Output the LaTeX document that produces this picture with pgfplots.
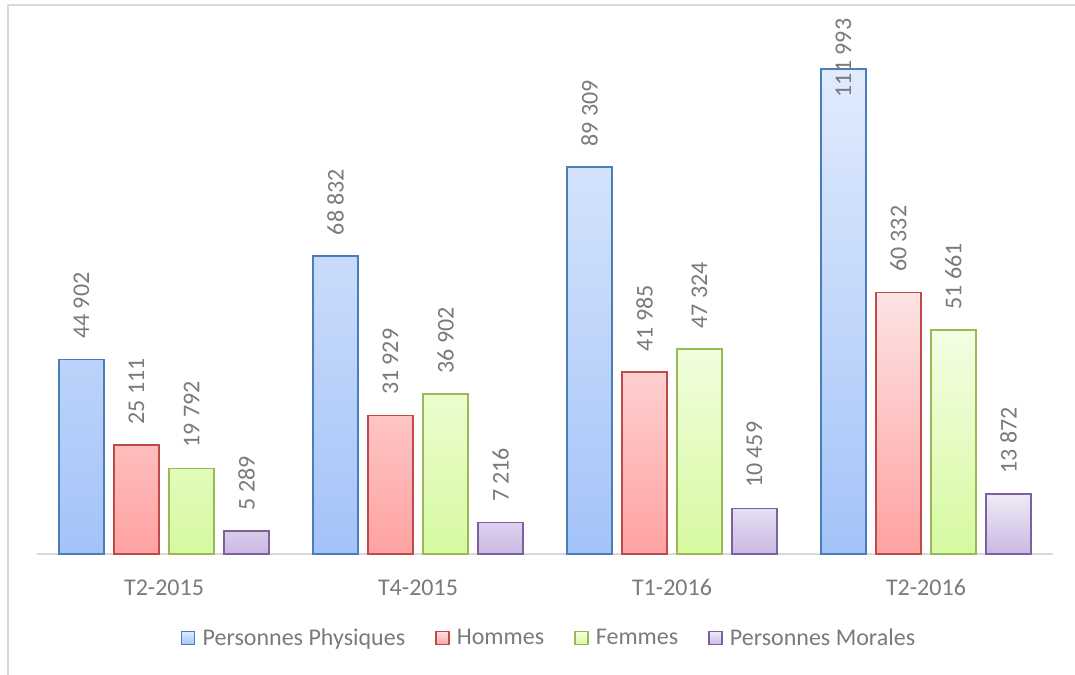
\documentclass[border=0pt]{standalone}
\usepackage{fontspec}
\setmainfont{Carlito}
\usepackage{pgfplots}
\pgfplotsset{compat=1.18}
\usepackage{pgfplotstable}

\definecolor{txt}{HTML}{7A7A7A}
\definecolor{framegray}{HTML}{D9D9D9}
\definecolor{axisgray}{HTML}{D9D9D9}
\definecolor{ppB}{HTML}{4A7EBB}\definecolor{ppT}{HTML}{E1EBFD}\definecolor{ppD}{HTML}{A3C3F8}
\definecolor{hoB}{HTML}{BE4B48}\definecolor{hoT}{HTML}{FDE3E3}\definecolor{hoD}{HTML}{FFA2A2}
\definecolor{feB}{HTML}{98B954}\definecolor{feT}{HTML}{F3FEE3}\definecolor{feD}{HTML}{D6F9A0}
\definecolor{pmB}{HTML}{7D60A0}\definecolor{pmT}{HTML}{EEEBF6}\definecolor{pmD}{HTML}{C9B9E3}

\newcommand\chartfont{\fontsize{24bp}{28bp}\selectfont}

% d: shift of the value label (bp) where it would leave the plot area
\pgfplotstableread{
x y d
0 44902 0
1 68832 0
2 89309 0
3 111993 -49
}\physiques
\pgfplotstableread{
x y
0 25111
1 31929
2 41985
3 60332
}\hommes
\pgfplotstableread{
x y
0 19792
1 36902
2 47324
3 51661
}\femmes
\pgfplotstableread{
x y
0 5289
1 7216
2 10459
3 13872
}\morales

\begin{document}
\begin{tikzpicture}
\path[use as bounding box] (0,0) rectangle (1075bp,675bp);
\draw[framegray, line width=1.5bp] (8bp,0) -- (8bp,670bp) -- (1075bp,670bp);
\begin{axis}[
  at={(37bp,121bp)}, anchor=south west,
  scale only axis, width=1016bp, height=539bp,
  xmin=-0.5, xmax=3.5, ymin=0, ymax=124450,
  ybar=10bp, bar width=45bp,
  axis y line=none, axis x line*=bottom,
  x axis line style={draw=axisgray, line width=1.2bp, -},
  xtick={0,1,2,3}, xticklabels={T2-2015,T4-2015,T1-2016,T2-2016},
  major tick length=0pt,
  xticklabel style={font=\chartfont, text=txt, yshift=-22bp},
  clip=false,
  nodes near coords={\pgfmathprintnumber[fixed, precision=0, 1000 sep={\ }, assume math mode=true]{\pgfplotspointmeta}},
  nodes near coords style={rotate=90, anchor=west, font=\chartfont, text=txt, inner xsep=20bp},
  legend columns=4,
  legend style={at={(0.504,-0.1558)}, anchor=center, draw=none, fill=none,
    font=\chartfont, text=txt, inner sep=0pt,
    /tikz/every even column/.append style={column sep=28bp}},
  legend image code/.code={%
    \draw[#1, line width=1.5bp] (0bp,-6.5bp) rectangle (13bp,6.5bp);
    \pgfpathmoveto{\pgfqpoint{19bp}{0bp}}\pgfusepath{discard}},
]
\addplot[draw=ppB, line width=1.5bp, top color=ppT, bottom color=ppD,
  visualization depends on={\thisrow{d} \as \dshift},
  every node near coord/.append style={xshift=\dshift bp}]
  table[x=x, y=y] {\physiques};
\addplot[draw=hoB, line width=1.5bp, top color=hoT, bottom color=hoD] table[x=x, y=y] {\hommes};
\addplot[draw=feB, line width=1.5bp, top color=feT, bottom color=feD] table[x=x, y=y] {\femmes};
\addplot[draw=pmB, line width=1.5bp, top color=pmT, bottom color=pmD] table[x=x, y=y] {\morales};
\legend{Personnes Physiques, Hommes, Femmes, Personnes Morales}
\end{axis}
\end{tikzpicture}
\end{document}
